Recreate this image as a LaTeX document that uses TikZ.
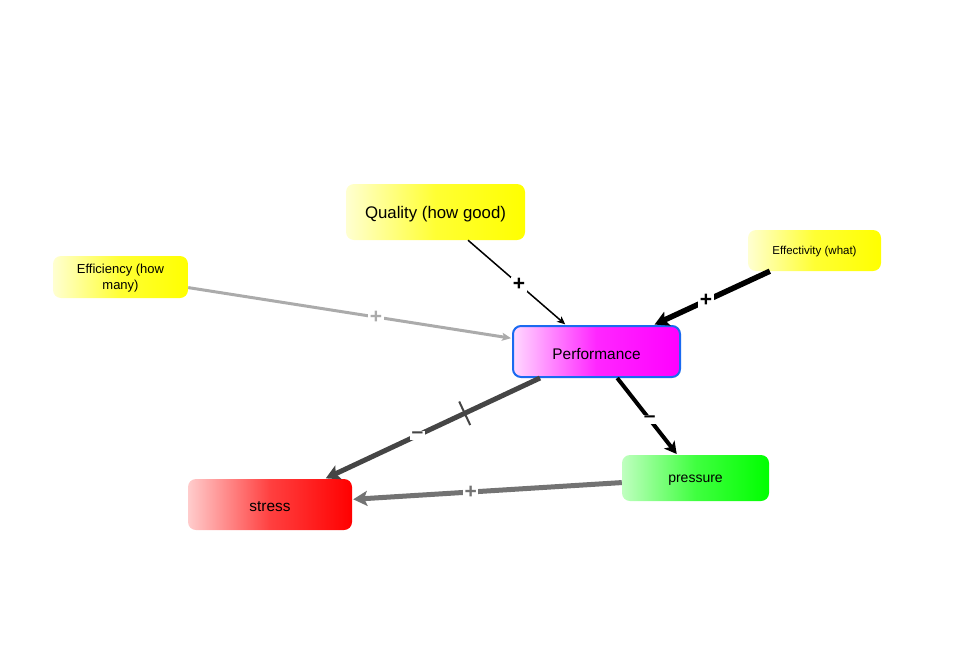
\documentclass[tikz,border=0pt]{standalone}
\usepackage{fontspec}
\setmainfont{Liberation Sans}
\usetikzlibrary{arrows.meta}
\definecolor{perfblue}{HTML}{1A6AF0}
\tikzset{
  box/.style={rounded corners=8pt, inner sep=0pt, align=center},
  ybox/.style={box, left color=yellow!18!white, right color=yellow, middle color=yellow!80!white},
  txt/.style={inner sep=0pt, align=center, yshift=-2pt},
  lbl/.style={fill=white, inner sep=1.5pt, font=\fontsize{21}{21}\selectfont\bfseries},
  link/.style={-{Stealth[length=9pt,width=8pt,inset=2pt]}, shorten >=1pt}
}
\begin{document}
\begin{tikzpicture}[x=1pt,y=-1pt]
\useasboundingbox (0,0) rectangle (979,653);
\node[ybox, minimum width=179pt, minimum height=56pt,
  label={[txt, font=\fontsize{16.8}{19}\selectfont]center:Quality (how good)}] (q) at (435.5,212) {};
\node[ybox, minimum width=135pt, minimum height=42pt,
  label={[txt, yshift=1pt, font=\fontsize{13}{15.5}\selectfont]center:Efficiency (how\\many)}] (eff) at (120.5,277) {};
\node[ybox, minimum width=133pt, minimum height=41pt,
  label={[txt, yshift=1pt, font=\fontsize{11.5}{13}\selectfont]center:Effectivity (what)}] (efv) at (814.5,250.5) {};
\node[box, left color=magenta!15!white, right color=magenta, middle color=magenta!85!white, draw=perfblue, line width=2pt, minimum width=167pt, minimum height=51pt,
  label={[txt, font=\fontsize{15.4}{17}\selectfont]center:Performance}] (p) at (596.5,351.5) {};
\node[box, left color=green!25!white, right color=green, middle color=green!75!white, minimum width=147pt, minimum height=46pt,
  label={[txt, font=\fontsize{14}{16}\selectfont]center:pressure}] (pr) at (695.5,478) {};
\node[box, left color=red!20!white, right color=red, middle color=red!75!white, minimum width=164pt, minimum height=51pt,
  label={[txt, font=\fontsize{15.4}{17}\selectfont]center:stress}] (s) at (270,504.5) {};

\draw[link, black, line width=1.5pt, -{Stealth[length=8pt,width=7pt,inset=2pt]}] (q) -- node[lbl, pos=0.52] {+} (p);
\draw[link, black!33, line width=3pt] (eff) -- node[lbl, pos=0.58, text=black!33] {+} (p);
\draw[link, black, line width=5.5pt, -{Stealth[length=14pt,width=15pt,inset=3pt]}] (efv) -- node[lbl, pos=0.55] {+} (p);
\draw[link, black, line width=4pt, -{Stealth[length=12pt,width=13pt,inset=3pt]}] (p) -- node[lbl, pos=0.54] {--} (pr);
\draw[link, black!73, line width=5pt, -{Stealth[length=14pt,width=15pt,inset=3pt]}] (p) --
  node[pos=0.35, sloped, inner sep=0pt, minimum width=2pt, minimum height=26pt, fill=black!73] {}
  node[lbl, pos=0.57, text=black!73] {--} (s);
\draw[link, black!55, line width=5pt, -{Stealth[length=14pt,width=15pt,inset=3pt]}] (pr) -- node[lbl, pos=0.56, text=black!55] {+} (s);
\end{tikzpicture}
\end{document}
